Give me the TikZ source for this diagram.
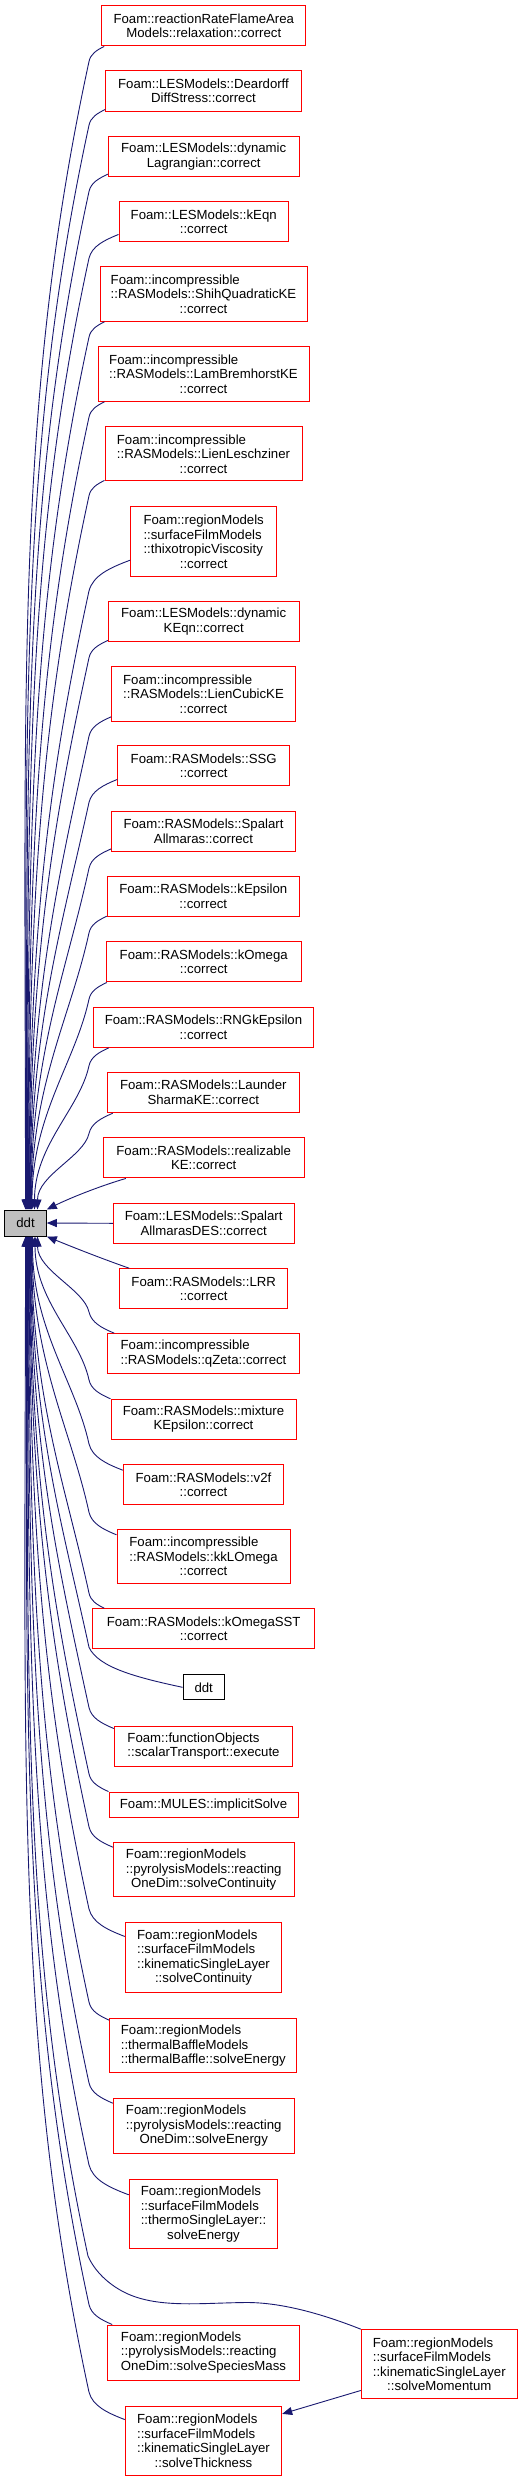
\documentclass[tikz,border=0pt]{standalone}
\usepackage{fontspec}
\setmainfont{Liberation Sans}
\usetikzlibrary{arrows.meta,calc}
\definecolor{edgecol}{RGB}{25,25,112}
\definecolor{boxred}{RGB}{255,0,0}
\definecolor{maingray}{RGB}{191,191,191}
\newlength\ljw
\newcommand\lj[2]{\settowidth\ljw{#1}\makebox[\ljw][l]{#2}}
\newcommand\upedge[2]{%
 \draw[cedge] let \p1=(#1), \p2=(#2),
   \n1={\x1-89pt}, \n2={min(0.6*\n1+6,40)}, \n3={\y1-\n2-(\y2)}, \n4={min(0.065*\n3,75)}
 in (\p1) .. controls (\x1-0.5*\n1, \y1-0.25*\n2) and (89pt+0.1*\n1, \y1-0.5*\n2) .. (89pt, \y1-\n2)
   .. controls (89pt-\n4, \y1-\n2-0.3*\n3) and (\x2, \y2+0.45*\n3) .. (\p2);}
\newcommand\downedge[2]{%
 \draw[cedge] let \p1=(#1), \p2=(#2),
   \n1={\x1-89pt}, \n2={min(0.6*\n1+6,40)}, \n3={\y2-(\y1)-\n2}, \n4={min(0.065*\n3,75)}
 in (\p1) .. controls (\x1-0.5*\n1, \y1+0.25*\n2) and (89pt+0.1*\n1, \y1+0.5*\n2) .. (89pt, \y1+\n2)
   .. controls (89pt-\n4, \y1+\n2+0.3*\n3) and (\x2, \y2-0.45*\n3) .. (\p2);}
\tikzset{
 fn/.style={draw=boxred, line width=1pt, fill=white, inner sep=0pt, align=center,
   font=\fontsize{13.2}{14.5}\selectfont},
 mainfn/.style={fn, draw=black, fill=maingray},
 plainfn/.style={fn, draw=black},
 cedge/.style={draw=edgecol, line width=0.9pt, -{Triangle[length=10pt,width=8pt]}},
}
\begin{document}
\begin{tikzpicture}[x=1pt,y=-1pt]
\useasboundingbox (0,0) rectangle (532,2481);
% nodes
\node[fn, minimum width=204.3pt, minimum height=40.3pt] (n1) at (203.8,25.8) {Foam::reactionRateFlameArea\\Models::relaxation::correct};
\node[fn, minimum width=195.6pt, minimum height=40pt] (n2) at (203.5,91) {Foam::LESModels::Deardorff\\DiffStress::correct};
\node[fn, minimum width=190.7pt, minimum height=40.4pt] (n3) at (203.7,156.5) {Foam::LESModels::dynamic\\Lagrangian::correct};
\node[fn, minimum width=169.3pt, minimum height=40.3pt] (n4) at (203.7,221.8) {Foam::LESModels::kEqn\\::correct};
\node[fn, minimum width=207pt, minimum height=54.6pt] (n5) at (203.5,294) {\lj{::RASModels::ShihQuadraticKE}{Foam::incompressible}\\::RASModels::ShihQuadraticKE\\::correct};
\node[fn, minimum width=211pt, minimum height=54.6pt] (n6) at (203.5,374) {\lj{::RASModels::LamBremhorstKE}{Foam::incompressible}\\::RASModels::LamBremhorstKE\\::correct};
\node[fn, minimum width=197pt, minimum height=54.3pt] (n7) at (203.5,453.8) {\lj{::RASModels::LienLeschziner}{Foam::incompressible}\\::RASModels::LienLeschziner\\::correct};
\node[fn, minimum width=146pt, minimum height=69.7pt] (n8) at (203.7,541.8) {Foam::regionModels\\\lj{Foam::regionModels}{::surfaceFilmModels}\\\lj{Foam::regionModels}{::thixotropicViscosity}\\::correct};
\node[fn, minimum width=190.7pt, minimum height=40.3pt] (n9) at (203.7,621.8) {Foam::LESModels::dynamic\\KEqn::correct};
\node[fn, minimum width=183.6pt, minimum height=54.6pt] (n10) at (203.5,694) {\lj{::RASModels::LienCubicKE}{Foam::incompressible}\\::RASModels::LienCubicKE\\::correct};
\node[fn, minimum width=172pt, minimum height=40.3pt] (n11) at (203.7,765.8) {Foam::RASModels::SSG\\::correct};
\node[fn, minimum width=183.6pt, minimum height=40.3pt] (n12) at (203.5,831.2) {Foam::RASModels::Spalart\\Allmaras::correct};
\node[fn, minimum width=192pt, minimum height=40.4pt] (n13) at (203.3,896.5) {Foam::RASModels::kEpsilon\\::correct};
\node[fn, minimum width=194.7pt, minimum height=40.3pt] (n14) at (203.7,961.8) {Foam::RASModels::kOmega\\::correct};
\node[fn, minimum width=220.4pt, minimum height=40.3pt] (n15) at (203.5,1027.2) {Foam::RASModels::RNGkEpsilon\\::correct};
\node[fn, minimum width=192pt, minimum height=40.4pt] (n16) at (203.3,1092.5) {Foam::RASModels::Launder\\SharmaKE::correct};
\node[fn, minimum width=200.7pt, minimum height=40.3pt] (n17) at (203.7,1157.8) {Foam::RASModels::realizable\\KE::correct};
\node[fn, minimum width=180.7pt, minimum height=40pt] (n18) at (203.7,1223.3) {Foam::LESModels::Spalart\\AllmarasDES::correct};
\node[mainfn, minimum width=41.6pt, minimum height=26pt] (ddt) at (25.5,1223) {ddt};
\node[fn, minimum width=168pt, minimum height=40pt] (n19) at (203.7,1288.7) {Foam::RASModels::LRR\\::correct};
\node[fn, minimum width=191.6pt, minimum height=40.3pt] (n20) at (203.5,1353.8) {\lj{::RASModels::qZeta::correct}{Foam::incompressible}\\::RASModels::qZeta::correct};
\node[fn, minimum width=185pt, minimum height=40pt] (n21) at (203.5,1419.3) {Foam::RASModels::mixture\\KEpsilon::correct};
\node[fn, minimum width=160.4pt, minimum height=40pt] (n22) at (203.5,1484.7) {Foam::RASModels::v2f\\::correct};
\node[fn, minimum width=173pt, minimum height=54.4pt] (n23) at (203.5,1556.5) {\lj{::RASModels::kkLOmega}{Foam::incompressible}\\::RASModels::kkLOmega\\::correct};
\node[fn, minimum width=222pt, minimum height=40pt] (n24) at (203.7,1628.7) {Foam::RASModels::kOmegaSST\\::correct};
\node[plainfn, minimum width=41.3pt, minimum height=25.3pt] (n25) at (203.7,1687.3) {ddt};
\node[fn, minimum width=178.4pt, minimum height=40pt] (n26) at (203.5,1746) {\lj{::scalarTransport::execute}{Foam::functionObjects}\\::scalarTransport::execute};
\node[fn, minimum width=189pt, minimum height=25.3pt] (n27) at (203.5,1804.7) {Foam::MULES::implicitSolve};
\node[fn, minimum width=180.7pt, minimum height=54.3pt] (n28) at (203.7,1869.8) {\lj{::pyrolysisModels::reacting}{Foam::regionModels}\\::pyrolysisModels::reacting\\OneDim::solveContinuity};
\node[fn, minimum width=156.4pt, minimum height=69.7pt] (n29) at (203.5,1957.8) {\lj{::kinematicSingleLayer}{Foam::regionModels}\\\lj{::kinematicSingleLayer}{::surfaceFilmModels}\\::kinematicSingleLayer\\::solveContinuity};
\node[fn, minimum width=187.3pt, minimum height=54.3pt] (n30) at (203.3,2045.8) {\lj{::thermalBaffle::solveEnergy}{Foam::regionModels}\\\lj{::thermalBaffle::solveEnergy}{::thermalBaffleModels}\\::thermalBaffle::solveEnergy};
\node[fn, minimum width=180.7pt, minimum height=54.6pt] (n31) at (203.7,2126) {\lj{::pyrolysisModels::reacting}{Foam::regionModels}\\::pyrolysisModels::reacting\\OneDim::solveEnergy};
\node[fn, minimum width=148.4pt, minimum height=69.4pt] (n32) at (203.5,2214) {\lj{::thermoSingleLayer::}{Foam::regionModels}\\\lj{::thermoSingleLayer::}{::surfaceFilmModels}\\::thermoSingleLayer::\\solveEnergy};
\node[fn, minimum width=191.6pt, minimum height=55pt] (n33) at (203.5,2352.5) {\lj{OneDim::solveSpeciesMass}{Foam::regionModels}\\\lj{OneDim::solveSpeciesMass}{::pyrolysisModels::reacting}\\OneDim::solveSpeciesMass};
\node[fn, minimum width=156pt, minimum height=69.3pt] (n34) at (439.3,2364.3) {\lj{::kinematicSingleLayer}{Foam::regionModels}\\\lj{::kinematicSingleLayer}{::surfaceFilmModels}\\::kinematicSingleLayer\\::solveMomentum};
\node[fn, minimum width=156.4pt, minimum height=69.3pt] (n35) at (203.5,2440.7) {\lj{::kinematicSingleLayer}{Foam::regionModels}\\\lj{::kinematicSingleLayer}{::surfaceFilmModels}\\::kinematicSingleLayer\\::solveThickness};
% upper edges
\upedge{$(n1.south west)+(3,0)$}{$(ddt.north west)+(21.3,0)$}
\upedge{$(n2.south west)+(0,-2)$}{$(ddt.north west)+(21.8,0)$}
\upedge{$(n3.south west)+(0,-3)$}{$(ddt.north west)+(22.3,0)$}
\upedge{$(n4.south west)+(0,-8)$}{$(ddt.north west)+(22.8,0)$}
\upedge{$(n5.south west)+(5,0)$}{$(ddt.north west)+(23.3,0)$}
\upedge{$(n6.south west)+(7,0)$}{$(ddt.north west)+(23.8,0)$}
\upedge{$(n7.south west)+(0,-1)$}{$(ddt.north west)+(24.3,0)$}
\upedge{$(n8.south west)+(0,-17)$}{$(ddt.north west)+(24.8,0)$}
\upedge{$(n9.south west)+(0,-2)$}{$(ddt.north west)+(25.3,0)$}
\upedge{$(n10.south west)+(0,-5)$}{$(ddt.north west)+(25.8,0)$}
\upedge{$(n11.south west)+(0,-7)$}{$(ddt.north west)+(26.3,0)$}
\upedge{$(n12.south west)+(0,-3)$}{$(ddt.north west)+(26.8,0)$}
\upedge{$(n13.south west)+(0,-1)$}{$(ddt.north west)+(27.3,0)$}
\upedge{$(n14.south west)+(1,0)$}{$(ddt.north west)+(27.8,0)$}
\upedge{$(n15.south west)+(16,0)$}{$(ddt.north west)+(30.3,0)$}
\upedge{$(n16.south west)+(6,0)$}{$(ddt.north west)+(33.3,0)$}
\draw[cedge] ($(n17.south west)+(23,0)$) .. controls (100,1186) and (70,1198) .. (ddt.north east);
\draw[cedge] (n18.west) -- (ddt.east);
\draw[cedge] ($(n19.north west)+(10,0)$) .. controls (100,1258) and (70,1246) .. (ddt.south east);
% lower edges
\downedge{$(n20.north west)+(7,0)$}{$(ddt.south west)+(33.3,0)$}
\downedge{$(n21.north west)+(0,0)$}{$(ddt.south west)+(30.8,0)$}
\downedge{$(n22.north west)+(0,6)$}{$(ddt.south west)+(28.3,0)$}
\downedge{$(n23.north west)+(0,6)$}{$(ddt.south west)+(27.8,0)$}
\downedge{$(n24.north west)+(12,0)$}{$(ddt.south west)+(27.3,0)$}
\downedge{$(n25.west)$}{$(ddt.south west)+(26.8,0)$}
\downedge{$(n26.north west)+(0,3)$}{$(ddt.south west)+(26.3,0)$}
\downedge{$(n27.north west)+(0,0)$}{$(ddt.south west)+(25.8,0)$}
\downedge{$(n28.north west)+(0,5)$}{$(ddt.south west)+(25.3,0)$}
\downedge{$(n29.north west)+(0,14)$}{$(ddt.south west)+(24.8,0)$}
\downedge{$(n30.north west)+(0,2)$}{$(ddt.south west)+(24.3,0)$}
\downedge{$(n31.north west)+(0,5)$}{$(ddt.south west)+(23.8,0)$}
\downedge{$(n32.north west)+(0,16)$}{$(ddt.south west)+(23.3,0)$}
\downedge{$(n33.north west)+(5,0)$}{$(ddt.south west)+(22.3,0)$}
\downedge{$(n35.north west)+(0,14)$}{$(ddt.south west)+(21.3,0)$}
\draw[cedge] (n34.north west) .. controls (330,2317) and (285,2302) .. (245,2302.5)
  .. controls (200,2303) and (160,2308) .. (128,2294)
  .. controls (108,2285) and (94,2270) .. (88,2256)
  .. controls (22,1950) and (27.5,1695) .. ($(ddt.south west)+(22.8,0)$);
\draw[cedge] ($(n34.south west)+(0,-9)$) -- ($(n35.north east)+(0,8.3)$);
\end{tikzpicture}
\end{document}
